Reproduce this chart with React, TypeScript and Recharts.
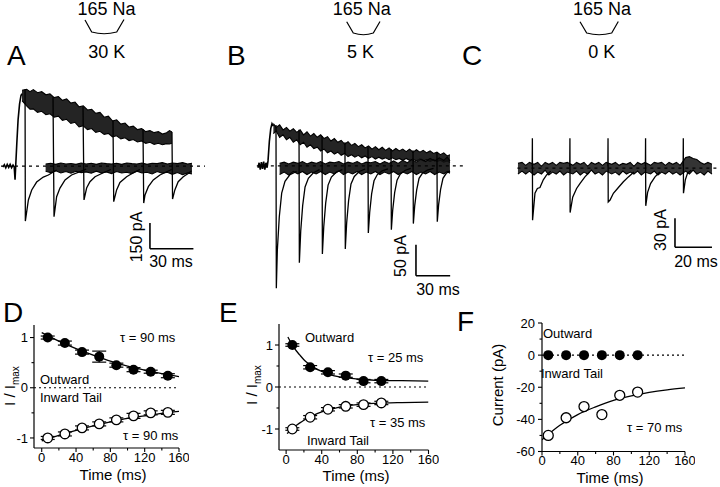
import React from "react";
import {
  ComposedChart,
  Line,
  Area,
  Scatter,
  XAxis,
  YAxis,
  ReferenceLine,
  ErrorBar,
} from "recharts";

const FONT = '"Liberation Sans", Arial, Helvetica, sans-serif';

// ---------- A: 165 Na / 30 K  (t in ms, current in pA)
// outward band [t, lo, hi]
const envA = [
  [11.7, 380, 440], [14.9, 350, 446], [17.2, 330, 432], [19.5, 332, 444], [22.4, 312, 426],
  [25.3, 318, 432], [28.2, 298, 414], [31, 304, 420], [33.9, 284, 398], [36.8, 290, 404],
  [39.6, 266, 382], [42.5, 272, 390], [45.4, 248, 366], [48.3, 254, 372], [51.1, 228, 344],
  [54, 234, 350], [56.9, 212, 326], [59.8, 218, 330], [62.6, 196, 306], [65.5, 202, 312],
  [68.4, 184, 284], [71.3, 190, 290], [74.1, 170, 262], [77, 176, 268], [79.9, 158, 244],
  [82.8, 164, 250], [85.6, 148, 226], [88.5, 154, 232], [91.4, 140, 212], [94.3, 146, 218],
  [97.1, 132, 200], [100, 138, 206], [102.9, 126, 194], [105.8, 132, 200], [108.6, 124, 186],
  [111.5, 130, 194], [113.5, 128, 206], [115.2, 132, 198],
];
const baseA = [
  [28, -30, 12], [31.5, -38, 16], [35, -28, 10], [38.5, -40, 18], [42, -32, 12], [45.5, -42, 15],
  [49, -30, 10], [52.5, -38, 18], [56, -34, 12], [59.5, -42, 16], [63, -30, 10], [66.5, -40, 18],
  [70, -34, 14], [73.5, -44, 12], [77, -32, 16], [80.5, -40, 10], [84, -36, 18], [87.5, -44, 14],
  [91, -30, 12], [94.5, -40, 18], [98, -36, 10], [101.5, -46, 16], [105, -32, 14], [108.5, -42, 20],
  [112, -36, 12], [115.5, -48, 18], [119, -38, 14], [122.5, -50, 20], [126, -40, 12], [129, -46, 16],
];
const onsetA = [
  [-1.5, -6], [-0.5, 8], [0.5, -10], [1.5, 9], [2.5, -8], [3.5, 10], [4.5, -9], [5.5, 6],
  [6.3, -4], [6.9, -80], [7.4, 10], [8.1, 130], [9, 270], [10, 360], [11, 410], [11.7, 420],
];
const tailsA = [
  [[13.8, 445], [14.0, -320], [16.1, -197], [18.4, -139], [21.8, -93], [26.4, -64], [29.9, -52], [35.6, -23]],
  [[33.1, 400], [33.8, -294], [35.6, -178], [37.9, -128], [41.4, -81], [45.9, -52], [51.7, -33], [56, -18]],
  [[53.8, 345], [54.5, -197], [56.3, -128], [58.6, -91], [62.1, -62], [67.8, -39], [73, -20]],
  [[74.5, 265], [75, -207], [77, -139], [79.3, -95], [83.9, -62], [88.5, -39], [93, -20]],
  [[95.2, 215], [95.7, -215], [96.6, -168], [98.9, -120], [102.3, -81], [106.9, -52], [111.5, -33], [115, -20]],
  [[115.2, 198], [115.6, -192], [117.2, -139], [119.5, -91], [123, -62], [126.4, -43], [128.7, -28]],
];

// ---------- B: 165 Na / 5 K
const envB = [
  [20.5, 52, 68], [23, 56, 62], [26, 46, 66], [29, 50, 58], [32, 42, 62], [35, 46, 56], [38, 38, 60],
  [41, 42, 54], [44, 34, 58], [47, 38, 50], [50, 30, 55], [53, 34, 48], [56, 28, 52], [59, 30, 46],
  [62, 24, 50], [65, 27, 44], [68, 21, 47], [71, 24, 40], [74, 19, 44], [77, 22, 38], [80, 17, 41],
  [83, 20, 35], [86, 15, 39], [89, 18, 33], [92, 14, 36], [95, 17, 31], [98, 13, 34], [101, 16, 29],
  [104, 12, 32], [107, 15, 27], [110, 11, 31], [113, 14, 26], [116, 11, 30], [119, 13, 25],
  [122, 10, 29], [125, 13, 24], [128, 10, 28], [131, 12, 24], [134, 9, 27], [137, 12, 23],
  [140, 9, 27], [143, 11, 22], [146, 8, 26], [149, 11, 22], [152, 8, 25], [155, 10, 21],
  [158, 7, 24], [161, 10, 20], [164, 7, 22], [167, 9, 18], [170, 6, 21], [173, 8, 16], [175.4, 5, 18],
];
const baseB = [
  [26, -14, 4], [30, -10, 6], [34, -15, 3], [38, -9, 6], [42, -13, 4], [46, -9, 7], [50, -14, 3],
  [54, -10, 6], [58, -13, 4], [62, -9, 7], [66, -14, 3], [70, -10, 6], [74, -13, 5], [78, -8, 7],
  [82, -14, 3], [86, -10, 6], [90, -13, 4], [94, -9, 7], [98, -14, 3], [102, -10, 6], [106, -13, 5],
  [110, -9, 7], [114, -14, 3], [118, -10, 7], [122, -13, 4], [126, -9, 8], [130, -14, 4], [134, -10, 9],
  [138, -13, 5], [142, -9, 10], [146, -14, 6], [150, -10, 11], [154, -13, 7], [158, -9, 12],
  [162, -14, 8], [166, -10, 13], [170, -13, 9], [173, -9, 14], [175.4, -12, 8],
];
const onsetB = [
  [7, -3], [8, 5], [9, -6], [10, 6], [11, -5], [12, 7], [13, -6], [14, 5], [15, -3],
  [15.8, 8], [17, 40], [18.2, 60], [19.3, 68], [20.5, 64],
];
const tailsB = [
  [[22.8, 66], [23.1, -197], [24, -135], [25.7, -82], [27.8, -44], [30.7, -25], [35.1, -14], [40.9, -9]],
  [[43, 58], [43.3, -156], [44.5, -105], [46.2, -64], [48.3, -34], [51.2, -20], [55.6, -11], [61, -6]],
  [[63.2, 48], [63.5, -142], [64.7, -98], [66.4, -60], [68.5, -31], [71.4, -18], [75.8, -10], [81, -6]],
  [[83.3, 38], [83.6, -134], [84.8, -92], [86.5, -56], [88.6, -29], [91.5, -17], [95.9, -9], [101, -5]],
  [[103.5, 30], [103.8, -108], [105, -75], [106.7, -45], [108.8, -24], [111.7, -14], [116, -8], [121, -5]],
  [[123.7, 27], [124, -103], [125.2, -71], [126.9, -43], [129, -23], [131.9, -13], [136.3, -7], [141, -4]],
  [[143, 25], [143.3, -93], [144.5, -64], [146.2, -39], [148.3, -20], [151.2, -12], [155.6, -7], [161, -4]],
  [[164, 22], [164.3, -90], [165.5, -62], [167.2, -38], [169.3, -20], [172.2, -12], [175.4, -8]],
];

// ---------- C: 165 Na / 0 K
const envC = [
  [4.3, -6, 5], [6.5, -3, 6], [8.5, -6, 3], [10.5, -3, 6], [13, -7, 4], [15, -4, 6], [17, -6, 2],
  [19, -2, 6], [21, -7, 4], [23, -4, 6], [25, -6, 3], [27, -3, 6], [29, -7, 5], [31, -4, 6],
  [34, -6, 3], [36, -3, 6], [38, -7, 4], [40, -4, 6], [42, -6, 2], [44, -2, 6], [46, -6, 4],
  [48, -4, 6], [50, -7, 3], [52, -3, 6], [55, -6, 4], [57, -4, 6], [59, -7, 3], [61, -3, 5],
  [63, -6, 4], [65, -4, 6], [67, -6, 2], [69, -3, 6], [71, -7, 4], [73, -4, 6], [76, -6, 3],
  [78, -3, 6], [80, -7, 5], [82, -4, 6], [84, -6, 3], [86, -3, 6], [88, -6, 4], [90, -4, 6],
  [92, -7, 3], [95, -3, 11], [97, -6, 12], [99, -2, 10], [101, -6, 9], [103, -4, 6], [105, -7, 4],
  [107, -3, 6], [109.2, -6, 4],
];
const tailsC = [
  [[12, 2], [12.1, 31], [12.2, -54], [13.5, -26], [14.8, -21], [16.2, -20], [18, -12], [19.8, -7], [22, -3]],
  [[32.3, 2], [32.4, 31], [32.5, -46], [33.9, -30], [36, -21], [37.8, -16], [40.5, -9], [43, -4]],
  [[52.9, 2], [53, 31], [53.1, -35], [54.1, -33], [55.9, -26], [58.6, -20], [61.3, -14], [64, -9], [67, -4]],
  [[73.2, 2], [73.3, 31], [73.4, -39], [74.4, -25], [76, -16], [78.4, -9], [81, -4]],
  [[93.6, 2], [93.7, 31], [93.8, -26], [94.8, -12], [96, -5], [98, -2]],
];

// ---------- D: normalised currents, 30 K
const timeD = [7, 27, 47, 67, 87, 107, 127, 147];
const outD = [1.0, 0.89, 0.71, 0.62, 0.45, 0.36, 0.32, 0.24];
const outErrD = [0.03, 0.04, 0.04, 0.11, 0.04, 0.04, 0.03, 0.04];
const inD = [-1.0, -0.92, -0.8, -0.72, -0.64, -0.56, -0.5, -0.49];
const inErrD = [0.03, 0.04, 0.04, 0.04, 0.04, 0.05, 0.04, 0.04];
const fitTimeD = [0, 20, 40, 60, 80, 100, 120, 140, 160];
const fitOutD = [1.1, 0.93, 0.78, 0.65, 0.53, 0.43, 0.35, 0.28, 0.22];
const fitInD = [-1.06, -0.95, -0.85, -0.76, -0.68, -0.61, -0.56, -0.51, -0.47];

// ---------- E: normalised currents, 5 K
const timeE = [7, 27, 47, 67, 87, 107];
const outE = [1.0, 0.47, 0.35, 0.27, 0.14, 0.14];
const inE = [-1.0, -0.72, -0.53, -0.46, -0.42, -0.38];
const errE = [0.03, 0.04, 0.04, 0.04, 0.04, 0.04];
const fitTimeOutE = [2, 5, 10, 15, 20, 25, 30, 40, 50, 60, 80, 100, 130, 160];
const fitOutE = [1.19, 1.07, 0.9, 0.77, 0.65, 0.56, 0.48, 0.37, 0.29, 0.24, 0.19, 0.16, 0.15, 0.14];
const fitTimeInE = [1, 5, 10, 15, 20, 30, 40, 50, 60, 80, 100, 130, 160];
const fitInE = [-1.11, -1.04, -0.94, -0.86, -0.79, -0.68, -0.59, -0.53, -0.48, -0.42, -0.39, -0.37, -0.36];

// ---------- F: absolute currents, 0 K
const timeF = [7, 27, 47, 67, 87, 107];
const outF = [0, 0, 0, 0, 0, 0];
const inF = [-50, -39, -32, -37, -25, -23];
const fitTimeF = [0, 20, 40, 60, 80, 100, 120, 140, 160];
const fitInF = [-52.7, -43.7, -37, -32.2, -28.2, -25.4, -23.2, -21.6, -20.4];

const timeTicks = [0, 20, 40, 60, 80, 100, 120, 140, 160];
const timeMajor = [0, 40, 80, 120, 160];
const normTicks = [-1, -0.5, 0, 0.5, 1];
const normMajor = [-1, 0, 1];
const pATicks = [-60, -50, -40, -30, -20, -10, 0, 10, 20];
const pAMajor = [-60, -40, -20, 0, 20];

const pairs = (a: number[][]) => a.map(([t, v]) => ({ t, v }));
const band = (a: number[][]) => a.map(([t, lo, hi]) => ({ t, band: [lo, hi] }));
const zip = (ts: number[], vs: number[], es?: number[]) =>
  ts.map((t, i) => ({ t, v: vs[i], err: es ? es[i] : 0 }));

type Bar = { t: number; v: number; dt: number; dv: number };

function TracePanel(props: {
  box: number[];
  xDomain: [number, number];
  yDomain: [number, number];
  env: number[][];
  base?: number[][];
  onset?: number[][];
  tails: number[][][];
  zero: [number, number];
  bar: Bar;
  opacity: number;
}) {
  const { box, xDomain, yDomain, env, base, onset, tails, zero, bar, opacity } = props;
  const M = 6;
  const [l, t, w, h] = box;
  return (
    <div style={{ position: "absolute", left: l - M, top: t - M }}>
      <ComposedChart
        width={w + 2 * M}
        height={h + 2 * M}
        margin={{ top: M, right: M, bottom: M, left: M }}
        data={band(env)}
      >
        <XAxis type="number" dataKey="t" domain={xDomain} hide allowDataOverflow />
        <YAxis type="number" domain={yDomain} hide allowDataOverflow />
        <ReferenceLine
          segment={[{ x: zero[0], y: 0 }, { x: zero[1], y: 0 }]}
          stroke="#000"
          strokeWidth={1.3}
          strokeDasharray="3 4"
        />
        <Area
          type="linear"
          dataKey="band"
          stroke="#000"
          strokeWidth={1.1}
          fill="#111"
          fillOpacity={opacity}
          isAnimationActive={false}
        />
        {base && (
          <Area
            type="linear"
            data={band(base)}
            dataKey="band"
            stroke="#000"
            strokeWidth={1.1}
            fill="#111"
            fillOpacity={opacity}
            isAnimationActive={false}
          />
        )}
        {onset && (
          <Line data={pairs(onset)} dataKey="v" type="linear" stroke="#000" strokeWidth={1.6} dot={false} activeDot={false} isAnimationActive={false} />
        )}
        {tails.map((tl, i) => (
          <Line
            key={i}
            data={pairs(tl)}
            dataKey="v"
            type="linear"
            stroke="#000"
            strokeWidth={1.3}
            dot={false}
            activeDot={false}
            isAnimationActive={false}
          />
        ))}
        <ReferenceLine
          segment={[{ x: bar.t, y: bar.v + bar.dv }, { x: bar.t, y: bar.v }]}
          stroke="#000"
          strokeWidth={1.6}
        />
        <ReferenceLine
          segment={[{ x: bar.t, y: bar.v }, { x: bar.t + bar.dt, y: bar.v }]}
          stroke="#000"
          strokeWidth={1.6}
        />
      </ComposedChart>
    </div>
  );
}

const xTick = (majors: number[]) => (p: any) => {
  const { x, y, payload } = p;
  const major = majors.includes(payload.value);
  return (
    <g>
      <line x1={x} x2={x} y1={y} y2={y + (major ? 4 : 2.5)} stroke="#000" strokeWidth={1.1} />
      {major && (
        <text x={x} y={y + 13.5} textAnchor="middle" fontSize={13} fontFamily={FONT} fill="#000">
          {payload.value}
        </text>
      )}
    </g>
  );
};

const yTick = (majors: number[], gap: number) => (p: any) => {
  const { x, y, payload } = p;
  const major = majors.includes(payload.value);
  return (
    <g>
      <line x1={x - (major ? 4 : 2.5)} x2={x} y1={y} y2={y} stroke="#000" strokeWidth={1.1} />
      {major && (
        <text x={x - gap} y={y + 4.6} textAnchor="end" fontSize={13} fontFamily={FONT} fill="#000">
          {payload.value}
        </text>
      )}
    </g>
  );
};

function FitPanel(props: {
  box: number[];
  xDomain: [number, number];
  yDomain: [number, number];
  yTicks: number[];
  yMajor: number[];
  gap: number;
  children: React.ReactNode;
}) {
  const { box, xDomain, yDomain, yTicks, yMajor, gap, children } = props;
  const [l, t, w, h] = box;
  const yw = 40, mt = 8, mr = 10, xh = 22;
  return (
    <div style={{ position: "absolute", left: l - yw, top: t - mt }}>
      <ComposedChart
        width={yw + w + mr}
        height={mt + h + xh}
        margin={{ top: mt, right: mr, bottom: 0, left: 0 }}
      >
        <XAxis
          type="number"
          dataKey="t"
          domain={xDomain}
          ticks={timeTicks}
          interval={0}
          height={xh}
          tickSize={0}
          tickMargin={0}
          tickLine={false}
          axisLine={{ stroke: "#000", strokeWidth: 1.2 }}
          tick={xTick(timeMajor)}
          allowDataOverflow
        />
        <YAxis
          type="number"
          domain={yDomain}
          ticks={yTicks}
          interval={0}
          width={yw}
          tickSize={0}
          tickMargin={0}
          tickLine={false}
          axisLine={{ stroke: "#000", strokeWidth: 1.2 }}
          tick={yTick(yMajor, gap)}
          allowDataOverflow
        />
        <ReferenceLine y={0} stroke="#000" strokeWidth={1.2} strokeDasharray="2 3" />
        {children}
      </ComposedChart>
    </div>
  );
}

const filledDot = (r: number) => (p: any) => <circle cx={p.cx} cy={p.cy} r={r} fill="#000" />;
const openDot = (r: number) => (p: any) => (
  <circle cx={p.cx} cy={p.cy} r={r} fill="#fff" stroke="#000" strokeWidth={1.3} />
);

const fitLine = (ts: number[], vs: number[]) => (
  <Line
    data={zip(ts, vs)}
    dataKey="v"
    type="monotone"
    stroke="#000"
    strokeWidth={1.3}
    dot={false}
    activeDot={false}
    isAnimationActive={false}
  />
);

function Overlay() {
  const txt = { fontFamily: FONT, fill: "#000" } as const;
  const titles = [
    { cx: 106.5, k: "30 K", kx: 106.7, path: "M85,20 L91.7,32 Q104,35.5 116.7,32 L124,19.5" },
    { cx: 361.7, k: "5 K", kx: 360.5, path: "M346.7,21.7 L353.3,33 Q363.5,36.5 373.3,33 L380,21.5" },
    { cx: 602, k: "0 K", kx: 601.7, path: "M580,21.7 L586.7,33 Q599,36.5 611.7,33 L618.3,21.5" },
  ];
  const note = (x: number, y: number, s: string) => (
    <text x={x} y={y} fontSize={13} {...txt}>
      {s}
    </text>
  );
  const vlabel = (x: number, y: number, main: string, sub?: string) => (
    <text transform={`translate(${x},${y}) rotate(-90)`} textAnchor="middle" fontSize={15} {...txt}>
      {main}
      {sub && (
        <tspan fontSize={10} dy={4}>
          {sub}
        </tspan>
      )}
    </text>
  );
  return (
    <svg width={720} height={487} style={{ position: "absolute", left: 0, top: 0, pointerEvents: "none" }}>
      {titles.map((d) => (
        <g key={d.k}>
          <text x={d.cx} y={15} textAnchor="middle" fontSize={18} {...txt}>
            165 Na
          </text>
          <path d={d.path} fill="none" stroke="#000" strokeWidth={1.2} />
          <text x={d.kx} y={58} textAnchor="middle" fontSize={18} {...txt}>
            {d.k}
          </text>
        </g>
      ))}
      <text x={7} y={65} fontSize={28} {...txt}>A</text>
      <text x={227} y={65} fontSize={28} {...txt}>B</text>
      <text x={462} y={65} fontSize={28} {...txt}>C</text>
      <text x={3} y={322} fontSize={28} {...txt}>D</text>
      <text x={219} y={322} fontSize={28} {...txt}>E</text>
      <text x={457} y={331} fontSize={28} {...txt}>F</text>

      {/* scale bar labels */}
      <text transform="translate(142,237) rotate(-90)" textAnchor="middle" fontSize={16} {...txt}>150 pA</text>
      <text x={171} y={267} textAnchor="middle" fontSize={16} {...txt}>30 ms</text>
      <text transform="translate(406,256) rotate(-90)" textAnchor="middle" fontSize={16} {...txt}>50 pA</text>
      <text x={438} y={295} textAnchor="middle" fontSize={16} {...txt}>30 ms</text>
      <text transform="translate(666,230) rotate(-90)" textAnchor="middle" fontSize={16} {...txt}>30 pA</text>
      <text x={696} y={267} textAnchor="middle" fontSize={16} {...txt}>20 ms</text>

      {/* axis titles */}
      {vlabel(15, 386, "I / I", "max")}
      {vlabel(257, 385, "I / I", "max")}
      {vlabel(503, 385, "Current (pA)")}
      <text x={113} y={479.5} textAnchor="middle" fontSize={15} {...txt}>Time (ms)</text>
      <text x={356} y={481} textAnchor="middle" fontSize={15} {...txt}>Time (ms)</text>
      <text x={610} y={482.5} textAnchor="middle" fontSize={15} {...txt}>Time (ms)</text>

      {/* annotations */}
      {note(120, 341.5, "τ = 90 ms")}
      {note(123, 440, "τ = 90 ms")}
      {note(40, 384, "Outward")}
      {note(40, 402, "Inward Tail")}
      {note(305, 341.5, "Outward")}
      {note(368, 361.5, "τ = 25 ms")}
      {note(370, 427, "τ = 35 ms")}
      {note(307, 445, "Inward Tail")}
      {note(543, 338, "Outward")}
      {note(541, 378, "Inward Tail")}
      {note(627, 431.5, "τ = 70 ms")}
    </svg>
  );
}

export default function App() {
  return (
    <div
      style={{
        position: "absolute",
        left: 0,
        top: 0,
        width: 720,
        height: 487,
        background: "#fff",
        overflow: "hidden",
        fontFamily: FONT,
      }}
    >
      <TracePanel
        box={[1, 80, 204, 180]}
        xDomain={[-2.8, 138]}
        yDomain={[-546, 500]}
        env={envA}
        base={baseA}
        onset={onsetA}
        tails={tailsA}
        zero={[-2.8, 138]}
        bar={{ t: 100, v: -481, dt: 30, dv: 150 }}
        opacity={0.92}
      />
      <TracePanel
        box={[250, 110, 220, 185]}
        xDomain={[0, 193]}
        yDomain={[-208, 90]}
        env={envB}
        base={baseB}
        onset={onsetB}
        tails={tailsB}
        zero={[6, 186.7]}
        bar={{ t: 145.6, v: -177, dt: 30, dv: 50 }}
        opacity={0.92}
      />
      <TracePanel
        box={[510, 120, 209, 135]}
        xDomain={[0, 113]}
        yDomain={[-90, 50]}
        env={envC}
        tails={tailsC}
        zero={[4, 113]}
        bar={{ t: 89.2, v: -82, dt: 20, dv: 30 }}
        opacity={0.85}
      />

      <FitPanel box={[34, 325, 145, 123]} xDomain={[-9, 160]} yDomain={[-1.2, 1.25]} yTicks={normTicks} yMajor={normMajor} gap={6}>
        <Scatter data={zip(timeD, outD, outErrD)} dataKey="v" shape={filledDot(5)} isAnimationActive={false}>
          <ErrorBar dataKey="err" direction="y" width={7} stroke="#000" strokeWidth={1.2} />
        </Scatter>
        <Scatter data={zip(timeD, inD, inErrD)} dataKey="v" shape={openDot(4.8)} isAnimationActive={false}>
          <ErrorBar dataKey="err" direction="y" width={7} stroke="#000" strokeWidth={1.2} />
        </Scatter>
        {fitLine(fitTimeD, fitOutD)}
        {fitLine(fitTimeD, fitInD)}
      </FitPanel>

      <FitPanel box={[279, 323.5, 149.5, 126]} xDomain={[-8, 160]} yDomain={[-1.5, 1.5]} yTicks={normTicks} yMajor={normMajor} gap={6}>
        <Scatter data={zip(timeE, outE, errE)} dataKey="v" shape={filledDot(5)} isAnimationActive={false}>
          <ErrorBar dataKey="err" direction="y" width={7} stroke="#000" strokeWidth={1.2} />
        </Scatter>
        <Scatter data={zip(timeE, inE, errE)} dataKey="v" shape={openDot(4.8)} isAnimationActive={false}>
          <ErrorBar dataKey="err" direction="y" width={7} stroke="#000" strokeWidth={1.2} />
        </Scatter>
        {fitLine(fitTimeOutE, fitOutE)}
        {fitLine(fitTimeInE, fitInE)}
      </FitPanel>

      <FitPanel box={[542, 322.5, 143, 128.5]} xDomain={[0, 160]} yDomain={[-60, 20]} yTicks={pATicks} yMajor={pAMajor} gap={7}>
        <Scatter data={zip(timeF, outF)} dataKey="v" shape={filledDot(5)} isAnimationActive={false} />
        <Scatter data={zip(timeF, inF)} dataKey="v" shape={openDot(5)} isAnimationActive={false} />
        {fitLine(fitTimeF, fitInF)}
      </FitPanel>

      <Overlay />
    </div>
  );
}
